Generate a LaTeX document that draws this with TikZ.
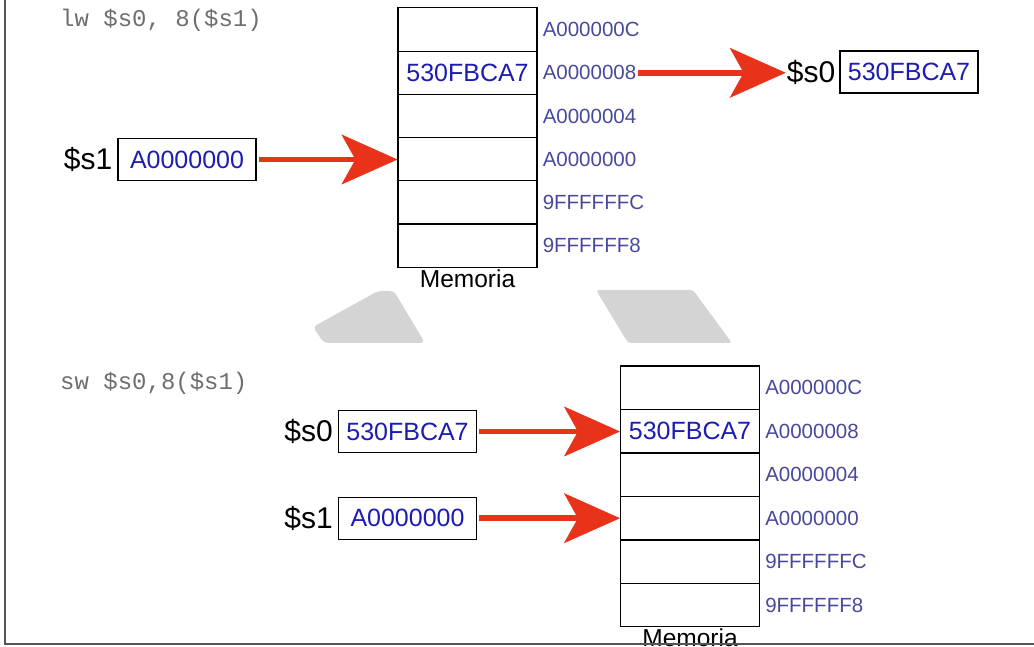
\documentclass[tikz,border=0pt]{standalone}
\usepackage{fontspec}
\setmainfont{Liberation Sans}
\setmonofont{Liberation Mono}
\usetikzlibrary{arrows.meta,positioning}

\definecolor{rojo}{RGB}{232,50,26}
\definecolor{azul}{RGB}{28,28,178}
\definecolor{direccion}{RGB}{72,72,158}
\definecolor{codigo}{RGB}{110,110,110}
\definecolor{marca}{RGB}{212,212,212}
\definecolor{marco}{RGB}{85,85,85}

\begin{document}
\begin{tikzpicture}[x=1pt, y=1pt,
  celda/.style={draw, line width=1.1pt, minimum width=139pt, minimum height=43.3pt,
    inner sep=0pt, text=azul, font=\fontsize{25}{25}\selectfont},
  direc/.style={anchor=west, inner sep=0pt, text=direccion, font=\fontsize{20.5}{20.5}\selectfont},
  registro/.style={draw, line width=1.1pt, minimum width=138pt, minimum height=42pt,
    inner sep=0pt, text=azul, font=\fontsize{25}{25}\selectfont},
  nombre/.style={inner sep=1pt, font=\fontsize{30}{30}\selectfont},
  memo/.style={inner sep=0pt, font=\fontsize{24.5}{24.5}\selectfont},
  instr/.style={anchor=west, inner sep=0pt, text=codigo, font=\ttfamily\fontsize{24}{24}\selectfont},
  flecha/.style={rojo, line width=5.5pt, shorten <=2pt,
    -{Stealth[length=56pt, width=50pt, inset=14pt, line width=0.5pt]}}
]
\useasboundingbox (0,0) rectangle (1034,646);

% --- Manchas grises de fondo ---
\fill[marca, rounded corners=4pt] (313,319) -- (378,355) -- (394,355) -- (425,303) -- (324,303) -- cycle;
\fill[marca, rounded corners=3pt] (596,356) -- (693,356) -- (732,303) -- (628,303) -- cycle;

% --- lw: carga desde memoria ---
\node[instr] (cA) at (60,626) {lw \$s0, 8(\$s1)};

\foreach \d/\v [count=\i from 0] in {A000000C/{},A0000008/530FBCA7,A0000004/{},
                                     A0000000/{},9FFFFFFC/{},9FFFFFF8/{}} {
  \node[celda] (mA\i) at (467.5,{616.4-43.2*\i}) {\v};
  \node[direc] (dA\i) at ([xshift=5pt]mA\i.east) {\d};
}
\node[memo, below=2pt of mA5] (memA) {Memoria};

\node[registro] (rA1) at (187,486.5) {A0000000};
\node[nombre, left=4pt of rA1] (nA1) {\$s1};
\node[registro] (rA0) at (909,574) {530FBCA7};
\node[nombre, left=3pt of rA0] (nA0) {\$s0};

\draw[flecha] (rA1.east) -- (rA1.east -| mA3.west);
\draw[flecha] (dA1.east) -- (dA1.east -| nA0.west);

% --- sw: almacena en memoria ---
\node[instr] (cB) at (60,263) {sw \$s0,8(\$s1)};

\foreach \d/\v [count=\i from 0] in {A000000C/{},A0000008/530FBCA7,A0000004/{},
                                     A0000000/{},9FFFFFFC/{},9FFFFFF8/{}} {
  \node[celda] (mB\i) at (690,{258.3-43.5*\i}) {\v};
  \node[direc] (dB\i) at ([xshift=5pt]mB\i.east) {\d};
}
\node[memo, below=1pt of mB5] (memB) {Memoria};

\node[registro] (rB0) at (407.5,214.5) {530FBCA7};
\node[nombre, left=4pt of rB0] (nB0) {\$s0};
\node[registro] (rB1) at (407.5,127.8) {A0000000};
\node[nombre, left=4pt of rB1] (nB1) {\$s1};

\draw[flecha] (rB0.east) -- (rB0.east -| mB1.west);
\draw[flecha] (rB1.east) -- (rB1.east -| mB3.west);

% --- Marco ---
\draw[marco, line width=2.2pt] (5,646) -- (5,2) -- (1034,2);

\end{tikzpicture}
\end{document}
